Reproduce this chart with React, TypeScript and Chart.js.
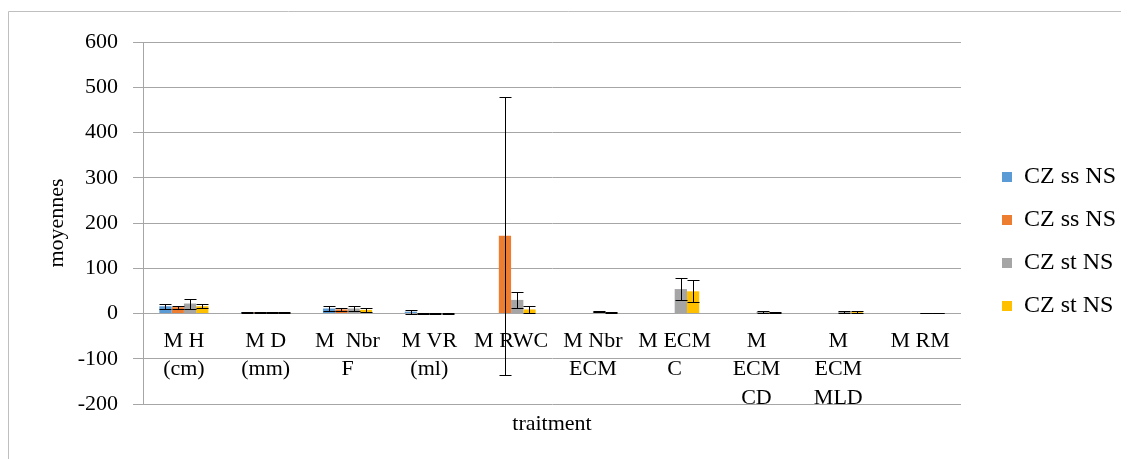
import React, { useEffect, useRef } from 'react';
import { Chart, registerables } from 'chart.js';

Chart.register(...registerables);

const categories: string[][] = [
  ['M H', '(cm)'],
  ['M D', '(mm)'],
  ['M  Nbr', 'F'],
  ['M VR', '(ml)'],
  ['M RWC'],
  ['M Nbr', 'ECM'],
  ['M ECM', 'C'],
  ['M', 'ECM', 'CD'],
  ['M', 'ECM', 'MLD'],
  ['M RM'],
];

const seriesNames = ['CZ ss NS', 'CZ ss NS', 'CZ st NS', 'CZ st NS'];
const seriesColors = ['#5B9BD5', '#ED7D31', '#A5A5A5', '#FFC000'];

const blueValues = [16, 3, 11, 4, null, null, null, null, null, null];
const blueErrors = [5, 1, 5, 4, 0, 0, 0, 0, 0, 0];
const orangeValues = [14, 3, 9, 1, 172, null, null, null, null, null];
const orangeErrors = [3, 1, 4, 1, 307, 0, 0, 0, 0, 0];
const grayValues = [22, 3, 11, 1, 30, 5, 54, 4, 4, 1];
const grayErrors = [11, 1, 6, 1, 17, 1, 24, 2, 2, 0.5];
const yellowValues = [16, 3, 8, 1, 9, 3, 49, 3, 3, 1];
const yellowErrors = [4, 1, 4, 1, 8, 1, 24, 1, 2, 0.5];

const seriesValues = [blueValues, orangeValues, grayValues, yellowValues];
const seriesErrors = [blueErrors, orangeErrors, grayErrors, yellowErrors];

const yMin = -200;
const yMax = 600;
const yStep = 100;

const FONT = '"Liberation Serif", "Times New Roman", serif';
const GRID = '#a6a6a6';

const framePlugin = {
  id: 'frame',
  beforeDraw(chart: any) {
    const ctx = chart.ctx;
    ctx.save();
    ctx.strokeStyle = '#bfbfbf';
    ctx.lineWidth = 1;
    ctx.beginPath();
    ctx.moveTo(0.5, chart.height);
    ctx.lineTo(0.5, 3.5);
    ctx.lineTo(chart.width, 3.5);
    ctx.stroke();
    ctx.restore();
  },
};

const errorBarPlugin = {
  id: 'errorBars',
  afterDatasetsDraw(chart: any) {
    const ctx = chart.ctx;
    const yScale = chart.scales.y;
    ctx.save();
    ctx.strokeStyle = '#000';
    ctx.lineWidth = 1;
    chart.data.datasets.forEach((ds: any, i: number) => {
      const meta = chart.getDatasetMeta(i);
      const errs = seriesErrors[i];
      meta.data.forEach((bar: any, j: number) => {
        const v = ds.data[j];
        const e = errs[j];
        if (v == null || !e) return;
        const x = Math.round(bar.x) + 0.5;
        const top = Math.round(yScale.getPixelForValue(v + e)) + 0.5;
        const bot = Math.round(yScale.getPixelForValue(v - e)) + 0.5;
        const hw = 6;
        ctx.beginPath();
        ctx.moveTo(x, top);
        ctx.lineTo(x, bot);
        ctx.moveTo(x - hw, top);
        ctx.lineTo(x + hw, top);
        ctx.moveTo(x - hw, bot);
        ctx.lineTo(x + hw, bot);
        ctx.stroke();
      });
    });
    ctx.restore();
  },
};

const xTitlePlugin = {
  id: 'xTitle',
  afterDraw(chart: any) {
    const ctx = chart.ctx;
    const a = chart.chartArea;
    ctx.save();
    ctx.font = `22px ${FONT}`;
    ctx.fillStyle = '#000';
    ctx.textAlign = 'center';
    ctx.textBaseline = 'middle';
    ctx.fillText('traitment', (a.left + a.right) / 2, a.bottom + 20);
    ctx.restore();
  },
};

export default function App() {
  const ref = useRef<HTMLCanvasElement | null>(null);

  useEffect(() => {
    document.documentElement.style.overflow = 'hidden';
    document.body.style.overflow = 'hidden';
    if (!ref.current) return;
    Chart.defaults.font.family = FONT;
    Chart.defaults.color = '#000';
    const chart = new Chart(ref.current, {
      type: 'bar',
      data: {
        labels: categories,
        datasets: seriesValues.map((vals, i) => ({
          label: seriesNames[i],
          data: vals,
          backgroundColor: seriesColors[i],
          borderWidth: 0,
          categoryPercentage: 0.6,
          barPercentage: 1.0,
        })),
      },
      options: {
        responsive: false,
        animation: false,
        layout: { padding: { left: 0, top: 34, bottom: 55, right: 3 } },
        plugins: {
          tooltip: { enabled: false },
          legend: {
            position: 'right',
            align: 'center',
            title: { display: true, text: ' ', font: { size: 37, lineHeight: 1 }, padding: 0 },
            labels: {
              boxWidth: 10,
              boxHeight: 10,
              padding: 19,
              color: '#000',
              font: { size: 24, family: FONT },
            },
          },
        },
        scales: {
          x: {
            type: 'category',
            position: { y: 0 } as any,
            grid: { display: false, drawTicks: false },
            border: { display: true, color: GRID, width: 1 },
            ticks: {
              autoSkip: false,
              maxRotation: 0,
              minRotation: 0,
              padding: 13,
              color: '#000',
              font: { size: 22, family: FONT, lineHeight: 1.3 },
            },
          },
          y: {
            type: 'linear',
            position: 'left',
            min: yMin,
            max: yMax,
            afterFit: (s: any) => {
              s.width = 135;
            },
            ticks: {
              stepSize: yStep,
              padding: 15,
              color: '#000',
              font: { size: 22, family: FONT },
            },
            grid: { color: GRID, tickColor: GRID, tickLength: 10, drawTicks: true },
            border: { display: true, color: GRID, width: 1 },
            title: {
              display: true,
              text: 'moyennes',
              color: '#000',
              font: { size: 22, family: FONT },
              padding: { top: 36, bottom: 0 },
            },
          },
          yPad: {
            type: 'linear',
            position: 'right',
            display: true,
            grid: { display: false },
            border: { display: false },
            ticks: { display: false },
            afterFit: (s: any) => {
              s.width = 22;
            },
          },
        },
      },
      plugins: [framePlugin, errorBarPlugin, xTitlePlugin],
    });
    return () => chart.destroy();
  }, []);

  return (
    <canvas ref={ref} width={1121} height={451} style={{ display: 'block' }} />
  );
}
